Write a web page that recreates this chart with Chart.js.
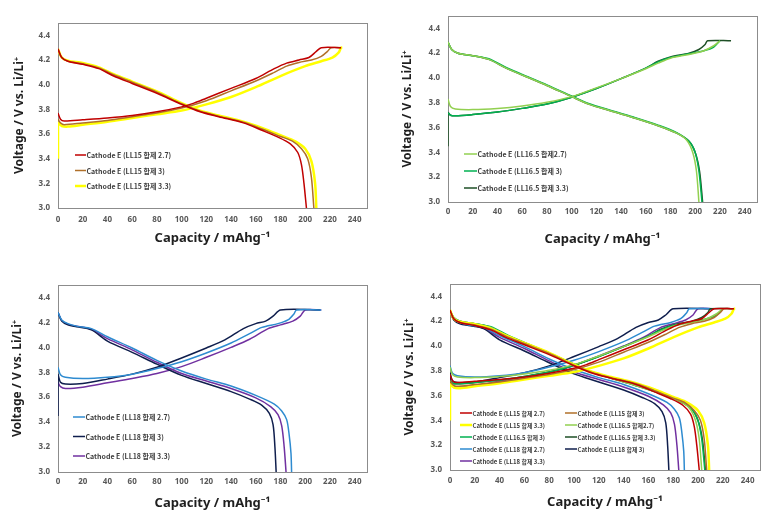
<!DOCTYPE html>
<html>
<head>
<meta charset="utf-8">
<script src="https://cdn.jsdelivr.net/npm/chart.js@4.4.0/dist/chart.umd.min.js"></script>
<style>
    body { margin: 0; background: #fff; }
    .page { position: relative; width: 775px; height: 528px; overflow: hidden; }
    .panel { position: absolute; height: 264px; }
</style>
</head>
<body>
<div class="page">
    <div class="panel" style="left:0;top:0;width:387px"><canvas id="p1"></canvas></div>
    <div class="panel" style="left:390px;top:0;width:385px"><canvas id="p2"></canvas></div>
    <div class="panel" style="left:0;top:264px;width:387px"><canvas id="p3"></canvas></div>
    <div class="panel" style="left:390px;top:264px;width:385px"><canvas id="p4"></canvas></div>
</div>
<script>
// Axis ticks
const capTicks = [0, 20, 40, 60, 80, 100, 120, 140, 160, 180, 200, 220, 240];
const voltTicks = [3.0, 3.2, 3.4, 3.6, 3.8, 4.0, 4.2, 4.4];

// Sample names
const sampleLabels = [
    'Cathode E (LL15 합제 2.7)',
    'Cathode E (LL15 합제 3)',
    'Cathode E (LL15 합제 3.3)',
    'Cathode E (LL16.5 합제2.7)',
    'Cathode E (LL16.5 합제 3)',
    'Cathode E (LL16.5 합제 3.3)',
    'Cathode E (LL18 합제 2.7)',
    'Cathode E (LL18 합제 3)',
    'Cathode E (LL18 합제 3.3)'
];

// Charge / discharge curves, [capacity, voltage]
const ll15_27_chg = [[0,3.77],[2,3.72],[5,3.705],[20,3.715],[40,3.73],[60,3.75],[80,3.78],[100,3.82],[110,3.85],[120,3.89],[140,3.97],[160,4.05],[175,4.13],[185,4.175],[195,4.20],[203,4.22],[209,4.27],[213,4.30],[229,4.30]];
const ll15_27_dis = [[0,4.29],[3,4.22],[8,4.19],[20,4.165],[33,4.13],[45,4.07],[60,4.01],[80,3.93],[100,3.84],[115,3.78],[130,3.74],[150,3.69],[165,3.63],[178,3.575],[188,3.52],[194,3.45],[197,3.35],[199,3.2],[201,3.0]];
const ll15_3_chg = [[0,3.72],[2,3.69],[5,3.675],[20,3.69],[40,3.71],[60,3.74],[80,3.77],[100,3.81],[120,3.87],[140,3.95],[160,4.03],[175,4.10],[185,4.15],[195,4.18],[205,4.20],[213,4.23],[218,4.27],[221,4.30],[229,4.30]];
const ll15_3_dis = [[0,4.29],[3,4.22],[8,4.19],[20,4.17],[33,4.135],[45,4.08],[60,4.02],[80,3.94],[100,3.845],[115,3.785],[130,3.745],[150,3.695],[165,3.64],[180,3.58],[190,3.54],[197,3.48],[202,3.40],[205,3.25],[207,3.0]];
const ll15_33_chg = [[0,3.40],[0,3.69],[3,3.665],[8,3.66],[20,3.675],[40,3.70],[60,3.73],[80,3.76],[100,3.79],[120,3.84],[140,3.90],[160,3.98],[180,4.07],[200,4.15],[213,4.19],[222,4.22],[227,4.26],[229,4.30],[230,4.30]];
const ll15_33_dis = [[0,4.29],[3,4.22],[8,4.195],[20,4.175],[33,4.14],[45,4.085],[60,4.025],[80,3.945],[100,3.85],[115,3.79],[130,3.75],[150,3.70],[165,3.65],[180,3.59],[192,3.54],[200,3.48],[205,3.38],[208,3.2],[209,3.0]];

const ll165_27_chg = [[0,3.83],[2,3.77],[6,3.75],[20,3.745],[40,3.755],[60,3.775],[80,3.805],[100,3.85],[120,3.92],[140,3.995],[160,4.075],[170,4.12],[180,4.16],[195,4.19],[207,4.22],[215,4.26],[220,4.30]];
const ll165_27_dis = [[0,4.29],[3,4.23],[8,4.20],[20,4.18],[33,4.15],[47,4.08],[61,4.02],[80,3.94],[100,3.85],[115,3.785],[130,3.74],[150,3.68],[170,3.615],[185,3.555],[193,3.50],[198,3.40],[201,3.25],[203,3.0]];
const ll165_3_chg = [[0,3.72],[2,3.70],[6,3.695],[20,3.705],[40,3.725],[60,3.755],[80,3.79],[100,3.845],[120,3.915],[140,3.995],[160,4.08],[170,4.13],[180,4.165],[195,4.195],[207,4.22],[215,4.25],[220,4.30]];
const ll165_3_dis = [[0,4.29],[3,4.23],[8,4.20],[20,4.18],[33,4.155],[47,4.085],[61,4.025],[80,3.945],[100,3.855],[115,3.79],[130,3.745],[150,3.685],[170,3.62],[185,3.56],[195,3.49],[200,3.40],[203,3.25],[205.5,3.0]];
const ll165_33_chg = [[0,3.45],[0,3.72],[2,3.70],[6,3.695],[20,3.705],[40,3.725],[60,3.755],[80,3.79],[100,3.845],[120,3.915],[140,3.995],[160,4.08],[170,4.135],[180,4.17],[195,4.20],[203,4.23],[208,4.27],[210,4.30],[229,4.30]];
const ll165_33_dis = [[0,4.29],[3,4.23],[8,4.20],[20,4.18],[33,4.15],[47,4.08],[61,4.02],[80,3.94],[100,3.85],[115,3.785],[130,3.74],[150,3.68],[170,3.615],[185,3.555],[195,3.49],[200,3.40],[203.5,3.25],[206,3.0]];

const ll18_27_chg = [[0,3.84],[2,3.78],[6,3.76],[20,3.75],[40,3.76],[60,3.785],[80,3.83],[100,3.885],[120,3.955],[140,4.035],[155,4.11],[165,4.16],[178,4.19],[186,4.22],[191,4.27],[193,4.30],[213,4.30]];
const ll18_27_dis = [[0,4.28],[3,4.22],[8,4.19],[15,4.17],[27,4.15],[40,4.085],[60,3.995],[80,3.895],[100,3.81],[120,3.745],[140,3.69],[160,3.615],[175,3.545],[181,3.49],[185,3.42],[187,3.3],[188.5,3.15],[189,3.0]];
const ll18_3_chg = [[0,3.45],[0,3.78],[2,3.72],[6,3.705],[20,3.71],[40,3.745],[60,3.785],[80,3.84],[100,3.915],[120,3.995],[135,4.06],[150,4.15],[160,4.19],[168,4.21],[174,4.25],[180,4.30],[212,4.30]];
const ll18_3_dis = [[0,4.28],[3,4.21],[8,4.18],[15,4.165],[27,4.14],[40,4.05],[60,3.96],[80,3.865],[100,3.775],[120,3.71],[140,3.645],[155,3.585],[165,3.535],[171,3.47],[174,3.38],[175.5,3.2],[176.5,3.0]];
const ll18_33_chg = [[0,3.72],[2,3.685],[6,3.67],[20,3.68],[40,3.715],[60,3.75],[80,3.79],[100,3.845],[120,3.92],[140,4.00],[155,4.065],[170,4.15],[180,4.18],[190,4.21],[196,4.25],[200,4.30],[213,4.30]];
const ll18_33_dis = [[0,4.28],[3,4.215],[8,4.185],[15,4.17],[27,4.145],[40,4.07],[60,3.98],[80,3.88],[100,3.79],[120,3.73],[140,3.67],[160,3.595],[172,3.525],[178,3.46],[181,3.37],[183,3.2],[184.5,3.0]];

const chargeCurves = [ll15_27_chg, ll15_3_chg, ll15_33_chg, ll165_27_chg, ll165_3_chg, ll165_33_chg, ll18_27_chg, ll18_3_chg, ll18_33_chg];
const dischargeCurves = [ll15_27_dis, ll15_3_dis, ll15_33_dis, ll165_27_dis, ll165_3_dis, ll165_33_dis, ll18_27_dis, ll18_3_dis, ll18_33_dis];

// line styles per sample
const sampleColors = ['#C00000', '#B0702A', '#FFFF00', '#92D050', '#00B050', '#1E4F26', '#2E8BD0', '#0F1E4D', '#7030A0'];
const sampleWidths = [1.5, 1.5, 2.5, 1.5, 1.5, 1.5, 1.5, 1.5, 1.5];

// grey box round the plot area
const frame = {
    id: 'frame',
    beforeDatasetsDraw(chart) {
        const { ctx, chartArea: a } = chart;
        ctx.save();
        ctx.strokeStyle = '#8c8c8c';
        ctx.lineWidth = 1;
        ctx.strokeRect(Math.round(a.left) + 0.5, Math.round(a.top) + 0.5, Math.round(a.width), Math.round(a.height));
        ctx.restore();
    }
};

// legend drawn inside the plot area
const insideLegend = {
    id: 'insideLegend',
    afterDraw(chart, args, opts) {
        const { ctx, chartArea: a } = chart;
        const items = [];
        chart.data.datasets.forEach(ds => {
            if (!items.find(it => it.label === ds.label)) items.push(ds);
        });
        ctx.save();
        ctx.font = opts.font;
        ctx.fillStyle = '#404040';
        ctx.textBaseline = 'middle';
        items.forEach((ds, i) => {
            const col = i % opts.cols;
            const row = Math.floor(i / opts.cols);
            const x = a.left + opts.x + col * opts.colW;
            const y = a.top + opts.y + row * opts.dy;
            ctx.strokeStyle = ds.borderColor;
            ctx.lineWidth = ds.borderWidth;
            ctx.beginPath();
            ctx.moveTo(x, y);
            ctx.lineTo(x + opts.len, y);
            ctx.stroke();
            ctx.fillText(ds.label, x + opts.len + 0.5, y + 0.5);
        });
        ctx.restore();
    }
};

const tickFont = { family: '"Noto Sans", "DejaVu Sans", sans-serif', size: 8, weight: 'bold' };

function makeChart(id, idx, lay) {
    const datasets = [];
    idx.forEach(i => {
        [chargeCurves[i], dischargeCurves[i]].forEach(curve => {
            datasets.push({
                label: sampleLabels[i],
                data: curve.map(p => ({ x: p[0], y: p[1] })),
                borderColor: sampleColors[i],
                borderWidth: sampleWidths[i],
                showLine: true,
                pointRadius: 0,
                tension: 0.3,
                fill: false
            });
        });
    });

    new Chart(document.getElementById(id), {
        type: 'scatter',
        data: { datasets },
        options: {
            responsive: true,
            maintainAspectRatio: false,
            animation: false,
            layout: { padding: { left: 0, top: lay.top, right: lay.right, bottom: 0 } },
            plugins: {
                legend: { display: false },
                tooltip: { enabled: false },
                insideLegend: lay.legend
            },
            scales: {
                x: {
                    type: 'linear',
                    min: 0,
                    max: 250,
                    afterBuildTicks: s => { s.ticks = capTicks.map(v => ({ value: v })); },
                    afterFit: s => { s.height = lay.xh; },
                    grid: { display: false, drawTicks: false },
                    border: { display: false },
                    ticks: { autoSkip: false, maxRotation: 0, padding: lay.xpad, color: '#595959', font: tickFont },
                    title: {
                        display: true,
                        text: 'Capacity / mAhg⁻¹',
                        color: '#1f1f1f',
                        font: { family: '"Noto Sans", "DejaVu Sans", sans-serif', size: 13, weight: 'bold' },
                        padding: { top: 0, bottom: lay.xtb }
                    }
                },
                y: {
                    type: 'linear',
                    min: 3.0,
                    max: 4.5,
                    afterBuildTicks: s => { s.ticks = voltTicks.map(v => ({ value: v })); },
                    afterFit: s => { s.width = lay.yw; },
                    grid: { display: false, drawTicks: false },
                    border: { display: false },
                    ticks: { autoSkip: false, padding: 8, color: '#595959', font: tickFont, callback: v => v.toFixed(1) },
                    title: {
                        display: true,
                        text: 'Voltage / V vs. Li/Li⁺',
                        color: '#1f1f1f',
                        font: { family: '"Noto Sans", "DejaVu Sans", sans-serif', size: 12, weight: 'bold' },
                        padding: { top: lay.ytp, bottom: 0 }
                    }
                }
            }
        },
        plugins: [frame, insideLegend]
    });
}

const legendFont = 'bold 7px "Noto Sans CJK KR"';

makeChart('p1', [0, 1, 2], { top: 23, right: 20, yw: 58, xh: 56, xpad: 7, xtb: 18, ytp: 12,
    legend: { x: 17, y: 132, dy: 15.5, cols: 1, colW: 0, len: 11, font: legendFont } });
makeChart('p2', [3, 4, 5], { top: 16, right: 18, yw: 58, xh: 62, xpad: 5, xtb: 17, ytp: 10,
    legend: { x: 16, y: 138, dy: 17, cols: 1, colW: 0, len: 13, font: legendFont } });
makeChart('p3', [6, 7, 8], { top: 21, right: 20, yw: 58, xh: 56, xpad: 5, xtb: 17, ytp: 10,
    legend: { x: 15, y: 132, dy: 19.5, cols: 1, colW: 0, len: 12, font: legendFont } });
makeChart('p4', [0, 1, 2, 3, 4, 5, 6, 7, 8], { top: 20, right: 15, yw: 60, xh: 58, xpad: 6, xtb: 18, ytp: 12,
    legend: { x: 10, y: 129, dy: 12, cols: 2, colW: 105, len: 12, font: 'bold 6px "Noto Sans CJK KR"' } });
</script>
</body>
</html>
